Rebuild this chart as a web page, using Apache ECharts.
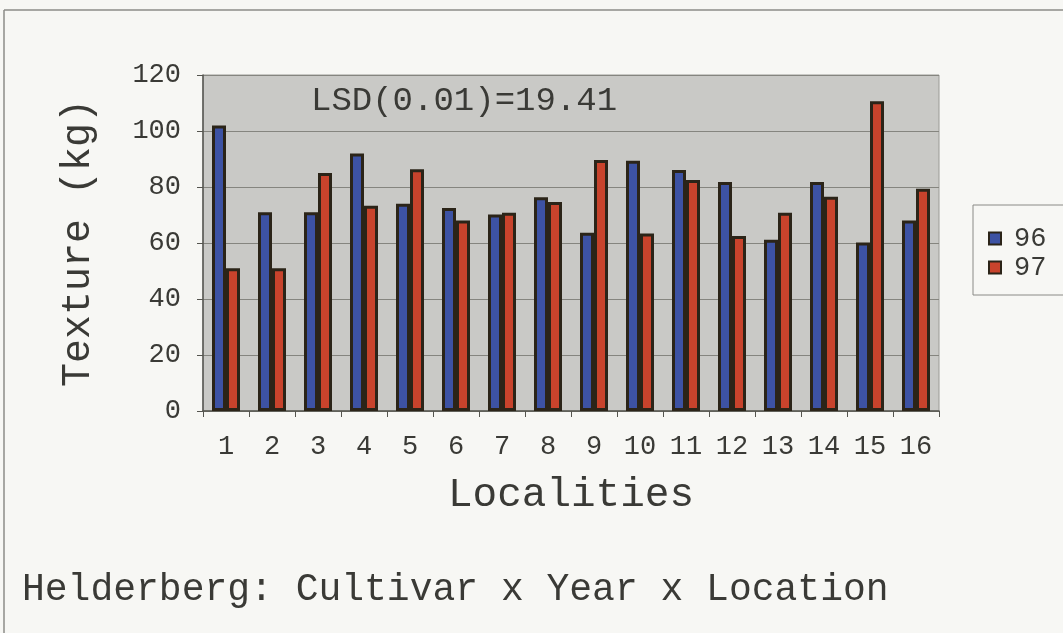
<!DOCTYPE html>
<html>
<head>
<meta charset="utf-8">
<script src="https://cdn.jsdelivr.net/npm/echarts@6/dist/echarts.min.js"></script>
<style>
  html, body { margin: 0; padding: 0; background: #f7f7f4; }
  #chart { width: 1063px; height: 633px; }
</style>
</head>
<body>
<div id="chart"></div>
<script>
// Texture (kg) per locality, for the 1996 and 1997 seasons
const localities = ['1','2','3','4','5','6','7','8','9','10','11','12','13','14','15','16'];
const season96 = [102, 71, 71, 92, 74, 72.5, 70.2, 76.3, 63.7, 89.4, 86.1, 81.8, 61.2, 81.8, 60.2, 68];
const season97 = [51, 51, 85, 73.3, 86.3, 68, 70.8, 74.6, 89.6, 63.4, 82.5, 62.5, 70.8, 76.5, 110.6, 79.4];
const seriesNames = ['96', '97'];
const yTicks = { min: 0, max: 120, interval: 20 };
const lsdText = 'LSD(0.01)=19.41';
const footnote = 'Helderberg: Cultivar x Year x Location';

const MONO = "'Courier New', 'Liberation Mono', monospace";
const TXT = '#3a3a36';

const chart = echarts.init(document.getElementById('chart'), null, { renderer: 'canvas' });

const barStyle = (fill) => ({
  color: fill,
  borderColor: '#2b2418',
  borderWidth: 3
});

chart.setOption({
  backgroundColor: '#f7f7f4',
  animation: false,
  textStyle: { fontFamily: MONO, color: TXT },
  grid: {
    left: 203, right: 124, top: 75, bottom: 222,
    show: true,
    backgroundColor: '#c9c9c6',
    borderColor: '#9a9a96',
    borderWidth: 1
  },
  legend: {
    orient: 'vertical',
    left: 973, top: 205,
    padding: [20, 60, 14, 15],
    itemGap: 2,
    itemWidth: 12, itemHeight: 12,
    icon: 'rect',
    borderColor: '#8a8a86',
    borderWidth: 1,
    backgroundColor: '#f7f7f4',
    textStyle: { fontFamily: MONO, fontSize: 27, color: TXT, padding: [0, 0, 0, 8] },
    data: seriesNames
  },
  xAxis: {
    type: 'category',
    data: localities,
    name: 'Localities',
    nameLocation: 'middle',
    nameGap: 64,
    nameTextStyle: { fontFamily: MONO, fontSize: 41, color: TXT },
    axisLine: { lineStyle: { color: '#55554f', width: 1.5 } },
    axisTick: { show: true, inside: false, length: 6, lineStyle: { color: '#55554f' } },
    axisLabel: { fontFamily: MONO, fontSize: 27, color: TXT, margin: 22 },
    splitLine: { show: false }
  },
  yAxis: {
    type: 'value',
    min: yTicks.min, max: yTicks.max, interval: yTicks.interval,
    name: 'Texture (kg)',
    nameLocation: 'middle',
    nameGap: 105,
    nameRotate: 90,
    nameTextStyle: { fontFamily: MONO, fontSize: 40, color: TXT },
    axisLine: { show: true, lineStyle: { color: '#55554f', width: 1.5 } },
    axisTick: { show: true, inside: false, length: 6, lineStyle: { color: '#55554f' } },
    axisLabel: { fontFamily: MONO, fontSize: 27, color: TXT, margin: 22 },
    splitLine: { show: true, lineStyle: { color: '#85857f', width: 1 } }
  },
  series: [
    {
      name: seriesNames[0], type: 'bar', data: season96,
      barWidth: 14, barGap: '0%',
      itemStyle: barStyle('#3d52a3')
    },
    {
      name: seriesNames[1], type: 'bar', data: season97,
      barWidth: 14, barGap: '0%',
      itemStyle: barStyle('#c8432c')
    }
  ],
  graphic: [
    // outer chart-area frame
    { type: 'line', shape: { x1: 4, y1: 10, x2: 1063, y2: 10 }, style: { stroke: '#8d8d88', lineWidth: 1.5 }, z: 10 },
    { type: 'line', shape: { x1: 4, y1: 10, x2: 4, y2: 633 }, style: { stroke: '#8d8d88', lineWidth: 1.5 }, z: 10 },
    {
      type: 'text', left: 311, top: 84, z: 10,
      style: { text: lsdText, font: '34px ' + MONO, fill: TXT }
    },
    {
      type: 'text', left: 22, top: 571, z: 10,
      style: { text: footnote, font: '38px ' + MONO, fill: TXT }
    }
  ]
});
</script>
</body>
</html>
